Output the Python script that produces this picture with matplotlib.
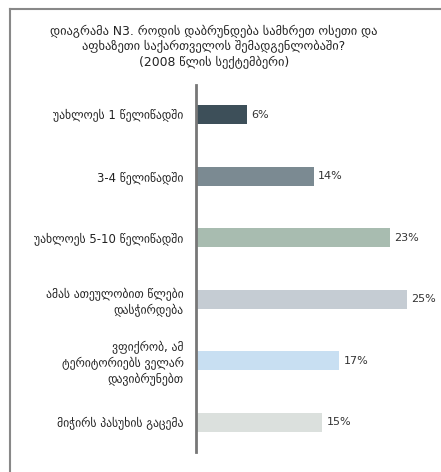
import matplotlib
matplotlib.use("Agg")
import matplotlib.pyplot as plt
from matplotlib.lines import Line2D

title = "დიაგრამა N3. როდის დაბრუნდება სამხრეთ ოსეთი და\nაფხაზეთი საქართველოს შემადგენლობაში?\n(2008 წლის სექტემბერი)"
categories = [
    "უახლოეს 1 წელიწადში",
    "3-4 წელიწადში",
    "უახლოეს 5-10 წელიწადში",
    "ამას ათეულობით წლები\nდასჭირდება",
    "ვფიქრობ, ამ\nტერიტორიებს ველარ\nდავიბრუნებთ",
    "მიჭირს პასუხის გაცემა",
]
values = [6, 14, 23, 25, 17, 15]
value_labels = ["6%", "14%", "23%", "25%", "17%", "15%"]
colors = ["#3d4f59", "#7b8a92", "#a8bcb0", "#c5ccd3", "#c8dff2", "#dbe0dd"]

plt.rcParams['font.family'] = ['DejaVu Sans']
W, H = 441, 472
fig = plt.figure(figsize=(W / 100, H / 100), dpi=100)
fig.patch.set_facecolor("white")

# outer frame (top and left visible)
fig.add_artist(Line2D([9.5 / W, 9.5 / W], [0, 1 - 8.5 / H], transform=fig.transFigure,
                      color="#888888", lw=1.5))
fig.add_artist(Line2D([9.5 / W, 1], [1 - 8.5 / H, 1 - 8.5 / H], transform=fig.transFigure,
                      color="#888888", lw=1.5))

fig.text(214 / W, 1 - 47 / H, title, ha="center", va="center", fontsize=8.9,
         color="#222222", linespacing=1.2)

ax = fig.add_axes([196 / W, 1 - 452 / H, 236 / W, 367 / H])
pos = list(range(len(values)))
ax.barh(pos, values, height=0.31, color=colors, left=0)
ax.set_ylim(5.48, -0.48)
ax.set_xlim(0, 28)
for s in ["top", "right", "bottom"]:
    ax.spines[s].set_visible(False)
ax.spines["left"].set_color("#777777")
ax.spines["left"].set_linewidth(2)
ax.set_xticks([])
ax.set_yticks(pos)
ax.set_yticklabels(categories, fontsize=8.4, color="#222222", linespacing=1.3)
ax.tick_params(axis="y", length=0, pad=9)
for p, v, lab in zip(pos, values, value_labels):
    ax.text(v + 0.5, p, lab, va="center", ha="left", fontsize=8, color="#333333",
            clip_on=False)

fig.savefig("out.png", dpi=100)
